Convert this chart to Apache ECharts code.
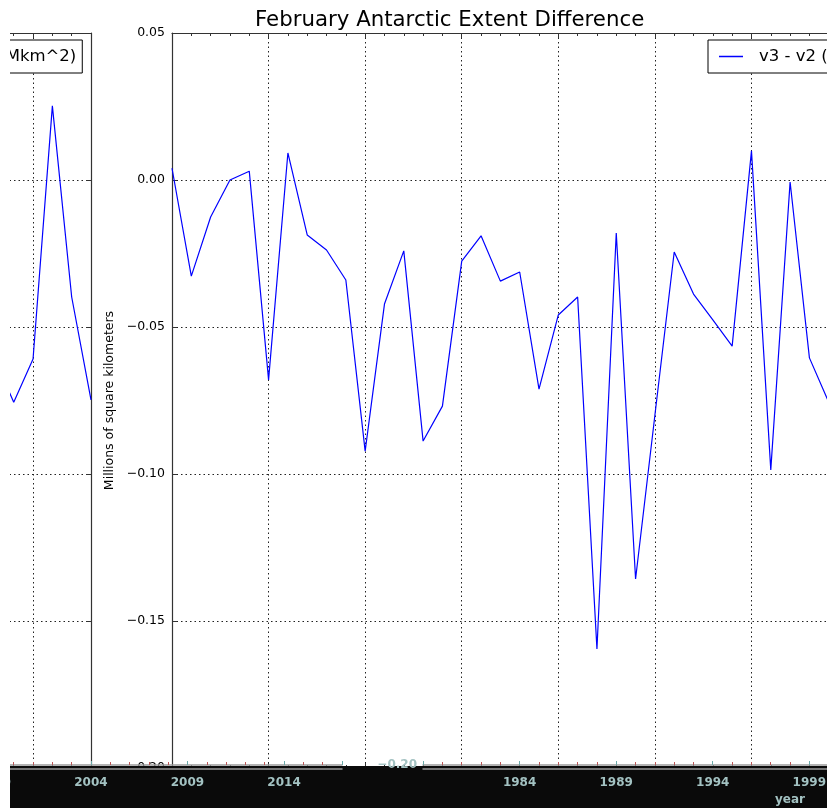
<!DOCTYPE html>
<html>
<head>
<meta charset="utf-8">
<title>February Antarctic Extent Difference</title>
<script src="https://cdn.jsdelivr.net/npm/echarts@6/dist/echarts.min.js"></script>
<style>
  html, body { margin: 0; padding: 0; background: #ffffff; }
  #chart { width: 827px; height: 808px; }
</style>
</head>
<body>
<div id="chart"></div>
<script>
// February Antarctic sea-ice extent, version 3 minus version 2 (Mkm^2)
const years = [
  1979, 1980, 1981, 1982, 1983, 1984, 1985, 1986, 1987, 1988,
  1989, 1990, 1991, 1992, 1993, 1994, 1995, 1996, 1997, 1998,
  1999, 2000, 2001, 2002, 2003, 2004, 2005, 2006, 2007, 2008,
  2009, 2010, 2011, 2012, 2013, 2014, 2015, 2016, 2017
];
const diff = [
   0.0040, -0.0327, -0.0126,  0.0000,  0.0030, -0.0680,  0.0092, -0.0187, -0.0238, -0.0340,
  -0.0922, -0.0422, -0.0241, -0.0888, -0.0769, -0.0276, -0.0190, -0.0344, -0.0313, -0.0711,
  -0.0459, -0.0398, -0.1595, -0.0180, -0.1357, -0.0800, -0.0245, -0.0388, -0.0476, -0.0565,
   0.0099, -0.0986, -0.0007, -0.0605, -0.0756, -0.0609,  0.0252, -0.0398, -0.0748
];
const seriesName = 'v3 - v2 (Mkm^2)';
const yearStart = 1979;
const yearEnd = 2017;
const yearStep = 5;
const yMin = -0.20;
const yMax = 0.05;
const yStep = 0.05;

const FONT = 'DejaVu Sans';
const STRIP_TEXT = '#a3c2c2';
const points = years.map((y, i) => [y, diff[i]]);

const fmtY = v => (v < 0 ? '\u2212' : '') + Math.abs(v).toFixed(2);
const fmtYear = v => ((v - yearStart) % yearStep === 0 ? String(v) : '');

// plain horizontal stroke for the legend key (corner dots keep the 24x14 box)
const LINE_KEY = 'path://M0,0h0.01v0.01h-0.01zM0,6.3h24v1.4h-24zM23.99,13.99h0.01v0.01h-0.01z';

const dotted = { show: true, lineStyle: { color: '#222', width: 1, type: [1.5, 3] } };
const spine = { show: true, onZero: false, lineStyle: { color: '#333', width: 1.2 } };

function plotXAxis(gridIndex, position, withGrid) {
  return {
    type: 'value', gridIndex, position,
    min: yearStart, max: yearEnd, interval: yearStep,
    axisLine: spine,
    axisTick: { show: true, inside: true, length: 5, lineStyle: { color: '#333' } },
    minorTick: { show: true, splitNumber: 5, length: 3, lineStyle: { color: '#333' } },
    axisLabel: { show: false },
    splitLine: withGrid ? dotted : { show: false }
  };
}

function stripXAxis(gridIndex, withName) {
  return {
    type: 'value', gridIndex, position: 'bottom', z: 150,
    min: yearStart, max: yearEnd, interval: yearStep,
    axisLine: { show: true, onZero: false,
      lineStyle: { color: '#9a9a9a', width: 1.5, shadowColor: '#9a9a9a', shadowOffsetY: 4, shadowBlur: 0 } },
    axisTick: { show: true, inside: true, length: 4, lineStyle: { color: '#6aa8a8' } },
    minorTick: { show: true, splitNumber: 5, length: 3, lineStyle: { color: '#b55' } },
    axisLabel: { show: true, showMinLabel: false, showMaxLabel: false, formatter: fmtYear,
      color: STRIP_TEXT, fontFamily: FONT, fontSize: 12, fontWeight: 'bold', margin: 12 },
    splitLine: { show: false },
    name: withName ? 'year' : '',
    nameLocation: 'middle', nameGap: 27,
    nameTextStyle: { color: STRIP_TEXT, fontFamily: FONT, fontSize: 12, fontWeight: 'bold' }
  };
}

function legendAt(left) {
  return {
    data: [{ name: seriesName, icon: LINE_KEY }], left, top: 40, orient: 'horizontal',
    itemWidth: 24, itemHeight: 14, padding: [8, 6, 8, 11],
    itemStyle: { color: '#0000ff', borderWidth: 0 },
    borderColor: '#000', borderWidth: 1, borderRadius: 0, backgroundColor: '#fff',
    textStyle: { fontFamily: FONT, fontSize: 16.5, color: '#000', padding: [0, 0, 0, 11] },
    selectedMode: false
  };
}

const chart = echarts.init(document.getElementById('chart'), null, { renderer: 'canvas' });

chart.setOption({
  animation: false,
  backgroundColor: '#ffffff',
  title: {
    text: 'February Antarctic Extent Difference',
    left: 250, top: 5,
    textStyle: { fontFamily: FONT, fontSize: 21.3, fontWeight: 'normal', color: '#000' }
  },
  legend: [legendAt(708), legendAt(-114)],
  grid: [
    { left: 172, top: 33, width: 734, height: 735, outerBoundsMode: 'none' },
    { left: -643, top: 33, width: 734, height: 735, outerBoundsMode: 'none' },
    { left: 423, top: 33, width: 734, height: 732, outerBoundsMode: 'none' },
    { left: -392, top: 33, width: 734, height: 732, outerBoundsMode: 'none' }
  ],
  xAxis: [
    plotXAxis(0, 'bottom', true),
    plotXAxis(0, 'top', false),
    plotXAxis(1, 'bottom', true),
    plotXAxis(1, 'top', false),
    stripXAxis(2, true),
    stripXAxis(3, false)
  ],
  yAxis: [
    {
      type: 'value', gridIndex: 0, position: 'left',
      min: yMin, max: yMax, interval: yStep,
      axisLine: spine,
      axisTick: { show: true, inside: true, length: 5, lineStyle: { color: '#333' } },
      axisLabel: { formatter: fmtY, color: '#000', fontFamily: FONT, fontSize: 12.5, margin: 7 },
      splitLine: dotted,
      name: 'Millions of square kilometers',
      nameLocation: 'middle', nameGap: 51, nameRotate: 90,
      nameTextStyle: { fontFamily: FONT, fontSize: 12.5, color: '#000' }
    },
    {
      type: 'value', gridIndex: 1, position: 'right',
      min: yMin, max: yMax, interval: yStep,
      axisLine: spine,
      axisTick: { show: true, inside: true, length: 5, lineStyle: { color: '#333' } },
      axisLabel: { show: false },
      splitLine: dotted
    },
    {
      type: 'value', gridIndex: 2, position: 'left', z: 150,
      min: yMin, max: yMax, interval: yStep,
      axisLine: { show: false }, axisTick: { show: false }, splitLine: { show: false },
      axisLabel: { formatter: v => (Math.abs(v - yMin) < 1e-9 ? fmtY(v) : ''),
        color: STRIP_TEXT, fontFamily: FONT, fontSize: 12, fontWeight: 'bold', margin: 6 }
    },
    { type: 'value', gridIndex: 3, show: false, min: yMin, max: yMax }
  ],
  series: [
    {
      name: seriesName, type: 'line', xAxisIndex: 0, yAxisIndex: 0,
      data: points, symbol: 'none', z: 5,
      lineStyle: { color: '#0000ff', width: 1.2 }, itemStyle: { color: '#0000ff' }
    },
    {
      name: seriesName, type: 'line', xAxisIndex: 2, yAxisIndex: 1,
      data: points, symbol: 'none', z: 5,
      lineStyle: { color: '#0000ff', width: 1.2 }, itemStyle: { color: '#0000ff' }
    }
  ],
  graphic: [
    { type: 'rect', z: 100, shape: { x: 10, y: 766, width: 817, height: 42 }, style: { fill: '#0a0a0a' } },
    { type: 'rect', z: 300, shape: { x: 0, y: 0, width: 10, height: 808 }, style: { fill: '#ffffff' } }
  ]
});
</script>
</body>
</html>
